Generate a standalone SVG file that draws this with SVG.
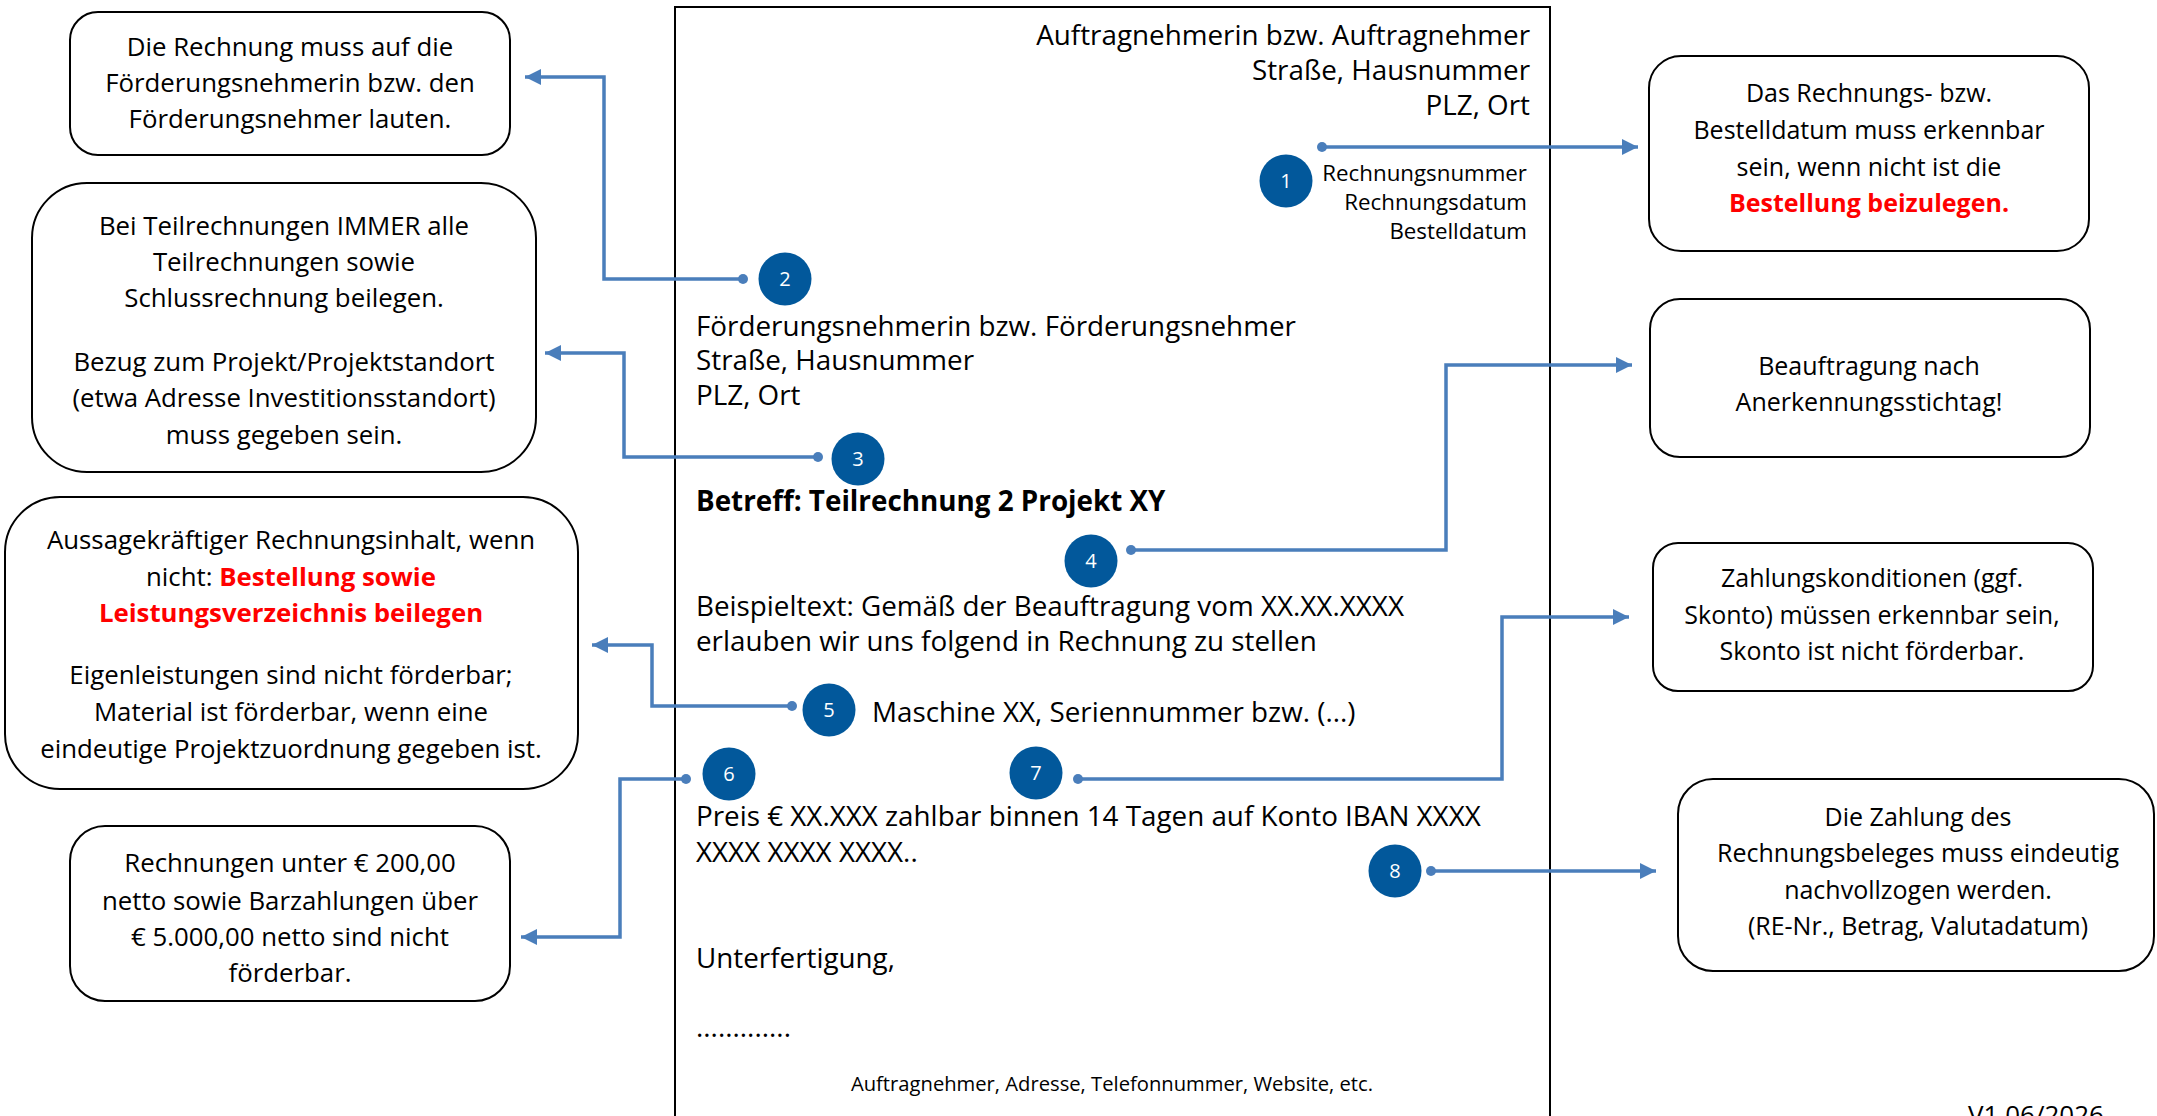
<svg xmlns="http://www.w3.org/2000/svg" width="2157" height="1116" viewBox="0 0 2157 1116">
<style>
  text { font-family: "Open Sans", "Noto Sans", "Liberation Sans", sans-serif; fill: #000; }
  .box { fill: #fff; stroke: #000; stroke-width: 2; }
  .bt { font-size: 25.8px; text-anchor: middle; }
  .br { font-size: 25px; text-anchor: middle; }
  .pg { font-size: 27.8px; }
  .sm { font-size: 22.3px; }
  .ft { font-size: 20.2px; }
  .red { fill: #FF0000; font-weight: bold; }
  .b { font-weight: bold; }
  .num { fill: #02589B; }
  .numt { fill: #fff; font-size: 20px; text-anchor: middle; }
  .con { fill: none; stroke: #4A7EBB; stroke-width: 3.5; marker-start: url(#dot); marker-end: url(#arr); }
</style>
<defs>
  <marker id="arr" markerUnits="userSpaceOnUse" markerWidth="17" markerHeight="17" refX="16" refY="8" orient="auto">
    <path d="M0,0 L16,8 L0,16 z" fill="#4A7EBB"/>
  </marker>
  <marker id="dot" markerUnits="userSpaceOnUse" markerWidth="12" markerHeight="12" refX="6" refY="6" orient="auto">
    <circle cx="6" cy="6" r="5" fill="#4A7EBB"/>
  </marker>
</defs>
<rect width="2157" height="1116" fill="#fff"/>

<g id="page">
  <rect x="675" y="7" width="875" height="1120" fill="#fff" stroke="#000" stroke-width="2"/>
  <g class="pg" text-anchor="end">
    <text x="1530" y="45">Auftragnehmerin bzw. Auftragnehmer</text>
    <text x="1530" y="80">Straße, Hausnummer</text>
    <text x="1530" y="115">PLZ, Ort</text>
  </g>
  <g class="sm" text-anchor="end">
    <text x="1527" y="181">Rechnungsnummer</text>
    <text x="1527" y="210">Rechnungsdatum</text>
    <text x="1527" y="239">Bestelldatum</text>
  </g>
  <g class="pg">
    <text x="696" y="336">Förderungsnehmerin bzw. Förderungsnehmer</text>
    <text x="696" y="370">Straße, Hausnummer</text>
    <text x="696" y="405">PLZ, Ort</text>
    <text x="696" y="511" class="b">Betreff: Teilrechnung 2 Projekt XY</text>
    <text x="696" y="616">Beispieltext: Gemäß der Beauftragung vom XX.XX.XXXX</text>
    <text x="696" y="651">erlauben wir uns folgend in Rechnung zu stellen</text>
    <text x="872" y="722">Maschine XX, Seriennummer bzw. (...)</text>
    <text x="696" y="826">Preis € XX.XXX zahlbar binnen 14 Tagen auf Konto IBAN XXXX</text>
    <text x="696" y="862">XXXX XXXX XXXX..</text>
    <text x="696" y="968">Unterfertigung,</text>
    <text x="696" y="1037">.............</text>
  </g>
  <text x="1112" y="1091" class="ft" text-anchor="middle">Auftragnehmer, Adresse, Telefonnummer, Website, etc.</text>
</g>

<g id="markers">
  <g id="m1"><circle class="num" cx="1286" cy="181" r="26.5"/><text class="numt" x="1286" y="188">1</text></g>
  <g id="m2"><circle class="num" cx="785" cy="279" r="26.5"/><text class="numt" x="785" y="286">2</text></g>
  <g id="m3"><circle class="num" cx="858" cy="459" r="26.5"/><text class="numt" x="858" y="466">3</text></g>
  <g id="m4"><circle class="num" cx="1091" cy="561" r="26.5"/><text class="numt" x="1091" y="568">4</text></g>
  <g id="m5"><circle class="num" cx="829" cy="710" r="26.5"/><text class="numt" x="829" y="717">5</text></g>
  <g id="m6"><circle class="num" cx="729" cy="774" r="26.5"/><text class="numt" x="729" y="781">6</text></g>
  <g id="m7"><circle class="num" cx="1036" cy="773" r="26.5"/><text class="numt" x="1036" y="780">7</text></g>
  <g id="m8"><circle class="num" cx="1395" cy="871" r="26.5"/><text class="numt" x="1395" y="878">8</text></g>
</g>

<g id="connectors">
  <path class="con" d="M1322,147 L1638,147"/>
  <path class="con" d="M743,279 L604,279 L604,77 L525,77"/>
  <path class="con" d="M818,457 L624,457 L624,353 L545,353"/>
  <path class="con" d="M1131,550 L1446,550 L1446,365 L1632,365"/>
  <path class="con" d="M792,706 L652,706 L652,645 L592,645"/>
  <path class="con" d="M686,779 L620,779 L620,937 L521,937"/>
  <path class="con" d="M1078,779 L1502,779 L1502,617 L1629,617"/>
  <path class="con" d="M1431,871 L1656,871"/>
</g>

<g id="noteA">
  <rect class="box" x="70" y="12" width="440" height="143" rx="28"/>
  <text class="bt" x="290" y="56">Die Rechnung muss auf die</text>
  <text class="bt" x="290" y="92">Förderungsnehmerin bzw. den</text>
  <text class="bt" x="290" y="128">Förderungsnehmer lauten.</text>
</g>
<g id="noteB">
  <rect class="box" x="32" y="183" width="504" height="289" rx="55"/>
  <text class="bt" x="284" y="235">Bei Teilrechnungen IMMER alle</text>
  <text class="bt" x="284" y="271">Teilrechnungen sowie</text>
  <text class="bt" x="284" y="307">Schlussrechnung beilegen.</text>
  <text class="bt" x="284" y="371">Bezug zum Projekt/Projektstandort</text>
  <text class="bt" x="284" y="407">(etwa Adresse Investitionsstandort)</text>
  <text class="bt" x="284" y="444">muss gegeben sein.</text>
</g>
<g id="noteC">
  <rect class="box" x="5" y="497" width="573" height="292" rx="55"/>
  <text class="bt" x="291" y="549">Aussagekräftiger Rechnungsinhalt, wenn</text>
  <text class="bt" x="291" y="586">nicht: <tspan class="red">Bestellung sowie</tspan></text>
  <text class="bt red" x="291" y="622">Leistungsverzeichnis beilegen</text>
  <text class="bt" x="291" y="684">Eigenleistungen sind nicht förderbar;</text>
  <text class="bt" x="291" y="721">Material ist förderbar, wenn eine</text>
  <text class="bt" x="291" y="758">eindeutige Projektzuordnung gegeben ist.</text>
</g>
<g id="noteD">
  <rect class="box" x="70" y="826" width="440" height="175" rx="35"/>
  <text class="bt" x="290" y="872">Rechnungen unter € 200,00</text>
  <text class="bt" x="290" y="910">netto sowie Barzahlungen über</text>
  <text class="bt" x="290" y="946">€ 5.000,00 netto sind nicht</text>
  <text class="bt" x="290" y="982">förderbar.</text>
</g>
<g id="noteE">
  <rect class="box" x="1649" y="56" width="440" height="195" rx="32"/>
  <text class="br" x="1869" y="102">Das Rechnungs- bzw.</text>
  <text class="br" x="1869" y="139">Bestelldatum muss erkennbar</text>
  <text class="br" x="1869" y="176">sein, wenn nicht ist die</text>
  <text class="br red" x="1869" y="212">Bestellung beizulegen.</text>
</g>
<g id="noteF">
  <rect class="box" x="1650" y="299" width="440" height="158" rx="30"/>
  <text class="br" x="1869" y="375">Beauftragung nach</text>
  <text class="br" x="1869" y="411">Anerkennungsstichtag!</text>
</g>
<g id="noteG">
  <rect class="box" x="1653" y="543" width="440" height="148" rx="25"/>
  <text class="br" x="1872" y="587">Zahlungskonditionen (ggf.</text>
  <text class="br" x="1872" y="624">Skonto) müssen erkennbar sein,</text>
  <text class="br" x="1872" y="660">Skonto ist nicht förderbar.</text>
</g>
<g id="noteH">
  <rect class="box" x="1678" y="779" width="476" height="192" rx="35"/>
  <text class="br" x="1918" y="826">Die Zahlung des</text>
  <text class="br" x="1918" y="862">Rechnungsbeleges muss eindeutig</text>
  <text class="br" x="1918" y="899">nachvollzogen werden.</text>
  <text class="br" x="1918" y="935">(RE-Nr., Betrag, Valutadatum)</text>
</g>
<text x="2036" y="1124" font-size="26" text-anchor="middle">V1.06/2026</text>
</svg>
